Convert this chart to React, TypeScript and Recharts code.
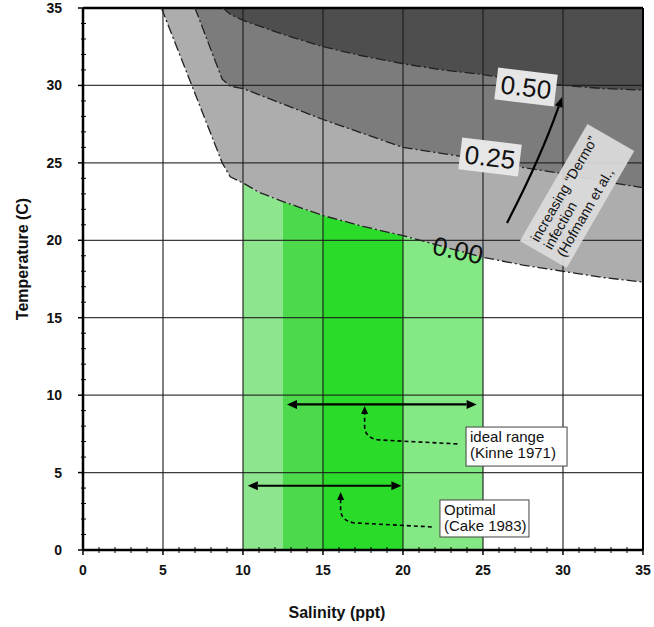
import React from 'react';
import {
  ComposedChart,
  XAxis,
  YAxis,
  Area,
  Line,
  ReferenceLine,
  ReferenceDot,
} from 'recharts';

const FONT = '"Liberation Sans", Arial, Helvetica, sans-serif';

// ---- axis ticks ----
const majorTicks = [0, 5, 10, 15, 20, 25, 30, 35];
const allTicks = Array.from({ length: 36 }, (_, i) => i);
const gridValues = [5, 10, 15, 20, 25, 30];

// ---- "Dermo" infection contours (salinity x, temperature y) ----
const contour000 = [
  { x: 4.9, y: 35 }, { x: 8.7, y: 25.0 }, { x: 9.2, y: 24.1 }, { x: 10, y: 23.7 },
  { x: 11, y: 23.1 }, { x: 12.5, y: 22.5 }, { x: 15, y: 21.6 }, { x: 17.5, y: 20.9 },
  { x: 20, y: 20.3 }, { x: 22.5, y: 19.6 }, { x: 25, y: 18.9 }, { x: 27.5, y: 18.4 },
  { x: 30, y: 18.0 }, { x: 32.5, y: 17.6 }, { x: 35, y: 17.3 },
];
const contour025 = [
  { x: 7.0, y: 35 }, { x: 8.7, y: 30.4 }, { x: 9.2, y: 29.95 }, { x: 10, y: 29.8 },
  { x: 12.5, y: 28.8 }, { x: 15, y: 27.8 }, { x: 17.5, y: 26.9 }, { x: 20, y: 26.0 },
  { x: 22.5, y: 25.6 }, { x: 25, y: 25.2 }, { x: 27.5, y: 24.7 }, { x: 30, y: 24.3 },
  { x: 32.5, y: 23.8 }, { x: 35, y: 23.4 },
];
const contour050 = [
  { x: 8.75, y: 35 }, { x: 9.2, y: 34.6 }, { x: 10, y: 34.2 }, { x: 12.5, y: 33.3 },
  { x: 15, y: 32.5 }, { x: 17.5, y: 31.9 }, { x: 20, y: 31.4 }, { x: 22.5, y: 31.0 },
  { x: 25, y: 30.7 }, { x: 27.5, y: 30.3 }, { x: 30, y: 30.0 }, { x: 32.5, y: 29.8 },
  { x: 35, y: 29.7 },
];
const TOP = 35;

const contours = [
  { name: '0.00', points: contour000, fill: '#adadad' },
  { name: '0.25', points: contour025, fill: '#7c7c7c' },
  { name: '0.50', points: contour050, fill: '#4e4e4e' },
];

// ---- salinity bands (green) ----
const greenBands = [
  { from: 10, to: 12.5, color: '#8de68d' },
  { from: 12.5, to: 15, color: '#4cd94c' },
  { from: 15, to: 20, color: '#2adb2a' },
  { from: 20, to: 25, color: '#84e884' },
];

// ---- range arrows ----
const rangeArrows = [
  { y: 9.4, from: 12.75, to: 24.6 },
  { y: 4.15, from: 10.3, to: 19.9 },
];
const hookArrows = [
  { start: { x: 23.4, y: 6.85 }, tip: { x: 17.6, y: 9.3 } },
  { start: { x: 21.8, y: 1.49 }, tip: { x: 16.1, y: 3.75 } },
];
const noteBoxes = [
  { x: 23.94, y: 7.94, w: 101, h: 39, lines: ['ideal range', '(Kinne 1971)'] },
  { x: 22.31, y: 3.23, w: 89, h: 37, lines: ['Optimal', '(Cake 1983)'] },
];

// ---- contour value labels ----
const contourLabels = [
  { x: 27.69, y: 29.9, text: '0.50', rot: 7, box: true },
  { x: 25.44, y: 25.38, text: '0.25', rot: 7, box: true },
  { x: 23.44, y: 19.37, text: '0.00', rot: 12, box: false },
];
const dermoArrow = { start: { x: 26.5, y: 21.12 }, end: { x: 29.94, y: 29.25 } };
const dermoNote = { x: 30.88, y: 22.86, lines: ['increasing \u201CDermo\u201D', 'infection', '(Hofmann et al.,'] };

const XTick = (p: any) => {
  const { x, y, payload } = p;
  const v = payload.value;
  const major = v % 5 === 0;
  return (
    <g>
      <line x1={x} x2={x} y1={major ? y : y - 3} y2={major ? y + 5 : y + 3} stroke="#000" strokeWidth={major ? 1.5 : 1} />
      {major && (
        <text x={x} y={y + 25} textAnchor="middle" fontFamily={FONT} fontWeight="bold" fontSize={14} fill="#111">
          {v}
        </text>
      )}
    </g>
  );
};

const YTick = (p: any) => {
  const { x, y, payload } = p;
  const v = payload.value;
  const major = v % 5 === 0;
  return (
    <g>
      <line x1={major ? x - 5 : x - 2} x2={major ? x : x + 3} y1={y} y2={y} stroke="#000" strokeWidth={major ? 1.5 : 1} />
      {major && (
        <text x={x - 21} y={y + 5} textAnchor="end" fontFamily={FONT} fontWeight="bold" fontSize={14} fill="#111">
          {v}
        </text>
      )}
    </g>
  );
};

const DoubleArrow = (p: any) => {
  const { x1, y1, x2, y2 } = p;
  const h = 10, w = 4.5;
  return (
    <g>
      <line x1={x1 + h} y1={y1} x2={x2 - h} y2={y2} stroke="#000" strokeWidth={2.2} />
      <polygon points={`${x1},${y1} ${x1 + h},${y1 - w} ${x1 + h},${y1 + w}`} fill="#000" />
      <polygon points={`${x2},${y2} ${x2 - h},${y2 - w} ${x2 - h},${y2 + w}`} fill="#000" />
    </g>
  );
};

const HookArrow = (p: any) => {
  const { x1, y1, x2, y2 } = p;
  const d = `M${x1},${y1} L${x2 + 14},${y1 - 4} Q${x2},${y1 - 6} ${x2},${y1 - 18} L${x2},${y2 + 8}`;
  return (
    <g>
      <path d={d} fill="none" stroke="#000" strokeWidth={1.6} strokeDasharray="4 3" />
      <polygon points={`${x2},${y2} ${x2 - 3.5},${y2 + 8} ${x2 + 3.5},${y2 + 8}`} fill="#000" />
    </g>
  );
};

const CurveArrow = (p: any) => {
  const { x1, y1, x2, y2 } = p;
  const cx = x1 + 0.61 * (x2 - x1);
  const cy = y1 + 0.513 * (y2 - y1);
  const dx = x2 - cx, dy = y2 - cy;
  const len = Math.sqrt(dx * dx + dy * dy);
  const ux = dx / len, uy = dy / len;
  const h = 10, w = 4;
  const bx = x2 - ux * h, by = y2 - uy * h;
  return (
    <g>
      <path d={`M${x1},${y1} Q${cx},${cy} ${bx},${by}`} fill="none" stroke="#000" strokeWidth={2.2} />
      <polygon
        points={`${x2},${y2} ${bx - uy * w},${by + ux * w} ${bx + uy * w},${by - ux * w}`}
        fill="#000"
      />
    </g>
  );
};

const makeValueLabel = (text: string, rot: number, box: boolean) => (p: any) => (
  <g transform={`translate(${p.cx},${p.cy}) rotate(${rot})`}>
    {box && <rect x={-30} y={-16} width={60} height={32} fill="#e6e6e6" />}
    <text x={0} y={0} dy="0.36em" textAnchor="middle" fontFamily={FONT} fontSize={26} fill="#111">
      {text}
    </text>
  </g>
);

const makeNoteBox = (w: number, h: number, lines: string[]) => (p: any) => (
  <g transform={`translate(${p.cx},${p.cy})`}>
    <rect x={0} y={0} width={w} height={h} fill="#fff" stroke="#444" strokeWidth={1} />
    {lines.map((l, i) => (
      <text key={i} x={4} y={15 + i * 16} fontFamily={FONT} fontSize={15} fill="#111">
        {l}
      </text>
    ))}
  </g>
);

const DermoNote = (p: any) => (
  <g transform={`translate(${p.cx},${p.cy}) rotate(-60)`}>
    <rect x={-67.5} y={-27} width={135} height={54} fill="#dcdcdc" fillOpacity={0.93} />
    {dermoNote.lines.map((l, i) => (
      <text key={i} x={-60} y={-10 + i * 15} fontFamily={FONT} fontSize={14} fill="#111">
        {l}
      </text>
    ))}
  </g>
);

export default function App() {
  return (
    <div style={{ position: 'absolute', left: 0, top: 0, width: 654, height: 627, background: '#fff' }}>
      <ComposedChart width={654} height={627} margin={{ top: 8, right: 11, bottom: 47, left: 23 }}>
        <XAxis
          type="number"
          dataKey="x"
          domain={[0, 35]}
          ticks={allTicks}
          interval={0}
          allowDataOverflow
          tick={(p: any) => <XTick {...p} />}
          tickLine={false}
          tickSize={0}
          tickMargin={0}
          height={30}
          axisLine={{ stroke: '#000', strokeWidth: 2.5 }}
          label={{
            content: (lp: any) => {
              const vb = lp.viewBox || { x: 83, y: 550, width: 560, height: 30 };
              return (
                <text x={vb.x + vb.width / 2 - 26} y={vb.y + vb.height + 38} textAnchor="middle" fontFamily={FONT} fontWeight="bold" fontSize={16} fill="#111">
                  Salinity (ppt)
                </text>
              );
            },
          }}
        />
        <YAxis
          type="number"
          domain={[0, 35]}
          ticks={allTicks}
          interval={0}
          allowDataOverflow
          tick={(p: any) => <YTick {...p} />}
          tickLine={false}
          tickSize={0}
          tickMargin={0}
          width={60}
          axisLine={{ stroke: '#000', strokeWidth: 2.5 }}
          label={{
            content: (lp: any) => {
              const vb = lp.viewBox || { x: 23, y: 8, width: 60, height: 542 };
              const cx = vb.x - 1;
              const cy = vb.y + vb.height / 2 - 20;
              return (
                <text x={cx} y={cy} transform={`rotate(-90 ${cx} ${cy})`} dy="0.35em" textAnchor="middle" fontFamily={FONT} fontWeight="bold" fontSize={16} fill="#111">
                  Temperature (C)
                </text>
              );
            },
          }}
        />

        {greenBands.map((b) => (
          <Area
            key={`g${b.from}`}
            data={contour000.filter((pt) => pt.x >= b.from && pt.x <= b.to)}
            dataKey="y"
            type="linear"
            baseValue={0}
            fill={b.color}
            fillOpacity={1}
            stroke="none"
            isAnimationActive={false}
            dot={false}
            activeDot={false}
          />
        ))}

        {contours.map((c) => (
          <Area
            key={`c${c.name}`}
            data={c.points.map((pt) => ({ x: pt.x, band: [pt.y, TOP] }))}
            dataKey="band"
            type="linear"
            fill={c.fill}
            fillOpacity={1}
            stroke="none"
            isAnimationActive={false}
            dot={false}
            activeDot={false}
          />
        ))}

        {gridValues.map((v) => (
          <ReferenceLine key={`gx${v}`} x={v} stroke="#1a1a1a" strokeWidth={1.3} strokeOpacity={0.85} />
        ))}
        {gridValues.map((v) => (
          <ReferenceLine key={`gy${v}`} y={v} stroke="#1a1a1a" strokeWidth={1.3} strokeOpacity={0.85} />
        ))}
        <ReferenceLine x={35} stroke="#000" strokeWidth={2} ifOverflow="visible" />
        <ReferenceLine y={35} stroke="#000" strokeWidth={2.5} ifOverflow="visible" />

        {contours.map((c) => (
          <Line
            key={`l${c.name}`}
            data={c.points}
            dataKey="y"
            type="linear"
            stroke="#222"
            strokeWidth={1.3}
            strokeDasharray="10 3 2 3"
            dot={false}
            activeDot={false}
            isAnimationActive={false}
          />
        ))}

        {rangeArrows.map((a, i) => (
          <ReferenceLine
            key={`ra${i}`}
            segment={[{ x: a.from, y: a.y }, { x: a.to, y: a.y }]}
            ifOverflow="visible"
            shape={(p: any) => <DoubleArrow {...p} />}
          />
        ))}
        {hookArrows.map((a, i) => (
          <ReferenceLine
            key={`ha${i}`}
            segment={[a.start, a.tip]}
            ifOverflow="visible"
            shape={(p: any) => <HookArrow {...p} />}
          />
        ))}
        <ReferenceLine
          segment={[dermoArrow.start, dermoArrow.end]}
          ifOverflow="visible"
          shape={(p: any) => <CurveArrow {...p} />}
        />

        {noteBoxes.map((n, i) => (
          <ReferenceDot key={`nb${i}`} x={n.x} y={n.y} r={1} ifOverflow="visible" shape={makeNoteBox(n.w, n.h, n.lines)} />
        ))}
        {contourLabels.map((l, i) => (
          <ReferenceDot key={`cl${i}`} x={l.x} y={l.y} r={1} ifOverflow="visible" shape={makeValueLabel(l.text, l.rot, l.box)} />
        ))}
        <ReferenceDot x={dermoNote.x} y={dermoNote.y} r={1} ifOverflow="visible" shape={(p: any) => <DermoNote {...p} />} />
      </ComposedChart>
    </div>
  );
}
